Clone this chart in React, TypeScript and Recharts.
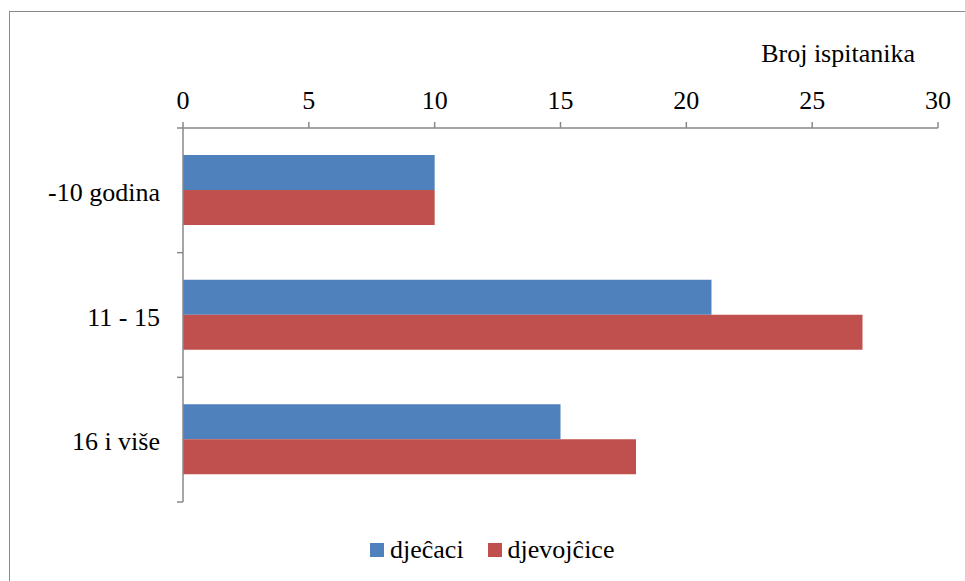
import { BarChart, Bar, XAxis, YAxis, Legend, Label } from 'recharts';

const categories = ['-10 godina', '11 - 15', '16 i više'];
const djecaci = [10, 21, 15];
const djevojcice = [10, 27, 18];
const xTicks = [0, 5, 10, 15, 20, 25, 30];

const seriesNames = ['djeĉaci', 'djevojĉice'];
const colors = ['#4F81BD', '#C0504D'];

const data = categories.map((name, i) => ({
  name,
  djecaci: djecaci[i],
  djevojcice: djevojcice[i],
}));

const FONT = 'Liberation Serif';
const AXIS = '#898989';

function CategoryTick(props: any) {
  const { x, y, payload, index } = props;
  const half = payload?.offset ?? 62;
  return (
    <g>
      <line x1={x - 6} x2={x} y1={y - half} y2={y - half} stroke={AXIS} strokeWidth={1.5} />
      {index === categories.length - 1 && (
        <line x1={x - 6} x2={x} y1={y + half} y2={y + half} stroke={AXIS} strokeWidth={1.5} />
      )}
      <text x={x - 23} y={y} dy={10.5} textAnchor="end" fill="#000" style={{ fontFamily: FONT, fontSize: 26 }}>
        {payload.value}
      </text>
    </g>
  );
}

function LegendBox() {
  return (
    <div style={{ display: 'flex', alignItems: 'center', paddingTop: 34, fontFamily: FONT, fontSize: 26, color: '#000' }}>
      {seriesNames.map((n, i) => (
        <div key={n} style={{ display: 'flex', alignItems: 'center', marginRight: i === 0 ? 24 : 0 }}>
          <span style={{ display: 'inline-block', width: 14, height: 14, background: colors[i], marginRight: 6 }} />
          <span style={{ lineHeight: '28px' }}>{n}</span>
        </div>
      ))}
    </div>
  );
}

export default function App() {
  return (
    <div style={{ position: 'absolute', left: 0, top: 0, width: 965, height: 581, overflow: 'hidden', background: '#fff', fontFamily: FONT }}>
      <div
        style={{
          position: 'absolute',
          left: 9,
          top: 11,
          width: 1000,
          height: 620,
          borderLeft: `1.5px solid ${AXIS}`,
          borderTop: `1.5px solid ${AXIS}`,
        }}
      />
      <div style={{ position: 'absolute', left: 0, top: 0 }}>
        <BarChart
          width={965}
          height={581}
          data={data}
          layout="vertical"
          margin={{ top: 88, right: 27, left: 0, bottom: 9 }}
          barSize={35}
          barGap={0}
          style={{ fontFamily: FONT }}
        >
          <XAxis
            type="number"
            orientation="top"
            domain={[0, 30]}
            ticks={xTicks}
            height={40}
            tickSize={6}
            tickMargin={13}
            stroke={AXIS}
            strokeWidth={1.5}
            tick={{ fill: '#000', fontSize: 26, style: { fontFamily: FONT } }}
          >
            <Label
              content={(p: any) => {
                const vb = p.viewBox || { x: 183, y: 88, width: 755 };
                return (
                  <text x={vb.x + vb.width - 23} y={vb.y - 26} textAnchor="end" fill="#000" style={{ fontFamily: FONT, fontSize: 26 }}>
                    Broj ispitanika
                  </text>
                );
              }}
            />
          </XAxis>
          <YAxis
            type="category"
            dataKey="name"
            width={183}
            tickSize={0}
            tickMargin={0}
            stroke={AXIS}
            strokeWidth={1.5}
            tick={<CategoryTick />}
            tickLine={false}
          />
          <Legend
            verticalAlign="bottom"
            height={70}
            wrapperStyle={{ left: 370, width: 300 }}
            content={() => <LegendBox />}
          />
          <Bar dataKey="djecaci" name={seriesNames[0]} fill={colors[0]} isAnimationActive={false} />
          <Bar dataKey="djevojcice" name={seriesNames[1]} fill={colors[1]} isAnimationActive={false} />
        </BarChart>
      </div>
    </div>
  );
}
